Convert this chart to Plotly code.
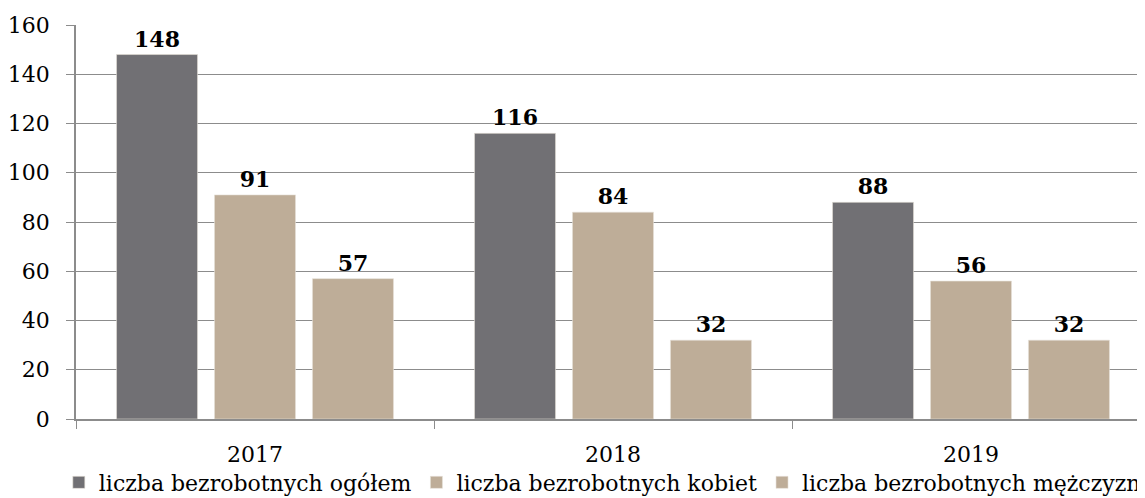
import plotly.graph_objects as go

years = ["2017", "2018", "2019"]
ogolem = [148, 116, 88]
kobiet = [91, 84, 56]
mezczyzn = [57, 32, 32]
names = ["liczba bezrobotnych ogółem", "liczba bezrobotnych kobiet", "liczba bezrobotnych mężczyzn"]
colors = ["#717074", "#bead98", "#bead98"]

fig = go.Figure()
for name, vals, col in zip(names, [ogolem, kobiet, mezczyzn], colors):
    fig.add_trace(go.Bar(
        x=years, y=vals, name=name,
        marker=dict(color=col, line=dict(color="#e6e0d8", width=0.6)),
        text=[str(v) for v in vals], textposition="outside",
        textfont=dict(family="DejaVu Serif", size=22, color="black", weight="bold"),
        cliponaxis=False,
    ))

# page body has an 8px offset, margins compensate for it
fig.update_layout(
    width=1145, height=498,
    margin=dict(l=68, r=3, t=17, b=81),
    paper_bgcolor="white", plot_bgcolor="white",
    barmode="group", bargap=0.179, bargroupgap=0.173,
    font=dict(family="DejaVu Serif", size=22, color="black"),
    showlegend=True,
    legend=dict(orientation="h", x=-0.016, xanchor="left",
                y=-0.108, yanchor="top",
                font=dict(family="DejaVu Serif", size=22, color="black"),
                traceorder="normal", bgcolor="rgba(0,0,0,0)"),
)
fig.update_xaxes(
    type="category", range=[-0.5, 2.5], tickson="boundaries",
    ticks="outside", ticklen=8, tickcolor="#8c8c8c",
    showline=True, linecolor="#8c8c8c", linewidth=1.5,
    showgrid=False, tickfont=dict(size=22), ticklabelstandoff=15,
    automargin=False,
)
fig.update_yaxes(
    range=[0, 160], dtick=20, ticks="outside", ticklen=8, tickcolor="#8c8c8c",
    showline=True, linecolor="#8c8c8c", linewidth=1.5,
    showgrid=True, gridcolor="#8c8c8c", gridwidth=1.2, zeroline=False,
    tickfont=dict(size=22), ticklabelstandoff=12,
    automargin=False,
)
fig.write_html("out.html")
